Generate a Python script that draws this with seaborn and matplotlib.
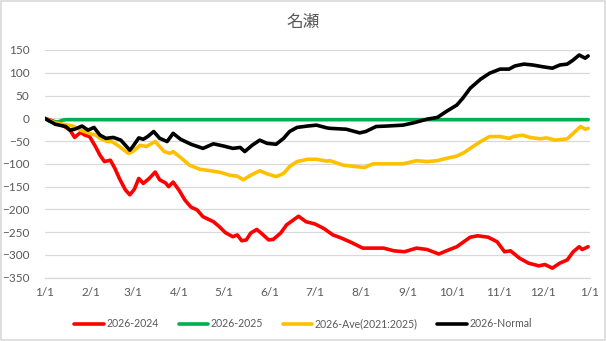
import numpy as np
import pandas as pd
import matplotlib
matplotlib.use("Agg")
import matplotlib.pyplot as plt
import matplotlib.dates as mdates
import seaborn as sns

title = "名瀬"
series_names = ["2026-2024", "2026-2025", "2026-Ave(2021:2025)", "2026-Normal"]
colors = ["#FF0000", "#00B050", "#FFC000", "#000000"]
y_ticks = [150, 100, 50, 0, -50, -100, -150, -200, -250, -300, -350]

# day-of-year offsets (0 = 1/1) and values
red_days = [0, 10, 17, 20, 24, 27, 30, 34, 37, 40, 44, 47, 50, 54, 57, 60, 63, 66, 70, 74,
            77, 81, 83, 86, 90, 94, 98, 102, 106, 113, 117, 121, 126, 129, 132, 135, 138,
            142, 145, 150, 153, 158, 162, 170, 175, 181, 187, 193, 198, 205, 213, 227, 234,
            241, 249, 256, 264, 269, 276, 285, 290, 297, 303, 308, 312, 318, 324, 331, 335,
            340, 345, 350, 354, 358, 360, 364]
red_vals = [0, -11, -26, -42, -31, -37, -40, -62, -81, -95, -92, -110, -132, -157, -168, -156,
            -132, -143, -132, -118, -135, -142, -150, -140, -158, -180, -195, -201, -216, -227,
            -238, -251, -260, -256, -269, -267, -252, -244, -252, -267, -266, -252, -234, -215,
            -227, -232, -242, -256, -262, -272, -285, -285, -291, -293, -285, -288, -298, -291,
            -282, -261, -258, -261, -271, -293, -291, -307, -318, -324, -321, -329, -318, -311,
            -293, -282, -288, -282]

green_days = [0, 3, 6, 9, 12, 14, 364]
green_vals = [0, -6, -8, -8, -4, -3, -3]

ave_days = [0, 7, 14, 19, 24, 30, 34, 37, 42, 45, 50, 56, 59, 64, 68, 74, 80, 84, 86, 91,
            97, 104, 111, 118, 124, 129, 133, 138, 144, 149, 155, 160, 164, 169, 176, 182,
            189, 191, 200, 214, 220, 229, 240, 249, 256, 263, 269, 276, 281, 285, 292, 298,
            305, 311, 314, 320, 325, 332, 336, 342, 350, 354, 359, 362, 364]
ave_vals = [0, -10, -14, -17, -26, -33, -37, -44, -51, -51, -62, -77, -73, -59, -62, -51, -73,
            -77, -73, -86, -103, -112, -115, -119, -125, -127, -135, -125, -115, -122, -128,
            -121, -106, -95, -90, -90, -94, -93, -103, -108, -100, -100, -100, -93, -95, -93,
            -88, -83, -75, -66, -51, -40, -40, -44, -40, -37, -42, -45, -43, -48, -45, -33,
            -18, -24, -22]

normal_days = [0, 7, 14, 17, 20, 25, 29, 33, 37, 41, 46, 51, 57, 59, 63, 66, 69, 73, 77, 82,
               86, 91, 98, 106, 113, 120, 126, 131, 134, 139, 144, 149, 155, 160, 164, 169,
               176, 182, 189, 191, 202, 211, 215, 222, 229, 240, 247, 256, 263, 269, 276,
               280, 285, 292, 298, 305, 311, 315, 321, 327, 334, 340, 345, 350, 354, 358,
               362, 364]
normal_vals = [0, -13, -18, -26, -24, -17, -26, -20, -37, -44, -42, -48, -70, -62, -43, -46,
               -40, -29, -44, -51, -33, -46, -57, -66, -56, -61, -66, -64, -73, -59, -48, -55,
               -57, -44, -29, -20, -17, -15, -21, -22, -24, -32, -29, -18, -17, -15, -10, -2,
               2, 15, 29, 44, 66, 86, 99, 108, 108, 115, 119, 117, 113, 110, 117, 119, 128,
               139, 132, 137]

start = pd.Timestamp("2026-01-01")
frames = []
for name, d, v in [(series_names[0], red_days, red_vals),
                   (series_names[1], green_days, green_vals),
                   (series_names[2], ave_days, ave_vals),
                   (series_names[3], normal_days, normal_vals)]:
    frames.append(pd.DataFrame({"date": start + pd.to_timedelta(d, unit="D"),
                                "value": v, "series": name}))
df = pd.concat(frames, ignore_index=True)

sns.set_theme(style="white")
plt.rcParams["font.family"] = ["Lato", "Noto Sans CJK JP", "DejaVu Sans"]

fig = plt.figure(figsize=(6.06, 3.41), dpi=100)
fig.patch.set_facecolor("white")
ax = fig.add_axes([0.0738, 0.1856, 0.8992, 0.6678])

for name, c in zip(series_names, colors):
    sns.lineplot(data=df[df["series"] == name], x="date", y="value", color=c,
                 linewidth=2.6, ax=ax, label=name, legend=False, solid_joinstyle="round")

ax.set_ylim(-350, 150)
ax.set_yticks(y_ticks)
ax.set_xlim(start, pd.Timestamp("2027-01-01"))
ax.xaxis.set_major_locator(mdates.MonthLocator())
ax.xaxis.set_major_formatter(plt.FuncFormatter(
    lambda x, p: f"{mdates.num2date(x).month}/{mdates.num2date(x).day}"))
ax.yaxis.grid(True, color="#D9D9D9", linewidth=0.9)
ax.xaxis.grid(False)
ax.set_axisbelow(True)
for s in ["top", "right", "left"]:
    ax.spines[s].set_visible(False)
ax.spines["bottom"].set_color("#D9D9D9")
ax.spines["bottom"].set_linewidth(0.9)
ax.tick_params(axis="x", colors="#595959", labelsize=8.5, length=4, width=0.9,
               direction="out", color="#D9D9D9", pad=3)
ax.tick_params(axis="y", colors="#595959", labelsize=8.5, length=0, pad=11)
for lbl in ax.get_yticklabels():
    lbl.set_horizontalalignment("right")
ax.set_xlabel("")
ax.set_ylabel("")

fig.text(0.5, 0.935, title, ha="center", va="center", fontsize=12, color="#595959",
         family=["Noto Sans CJK JP", "DejaVu Sans"])

handles, labels = ax.get_legend_handles_labels()
leg = fig.legend(handles, labels, loc="center", bbox_to_anchor=(0.5, 0.05), ncol=4,
                 frameon=False, fontsize=7.6, handlelength=2.8, handletextpad=0.2,
                 columnspacing=1.9)
for t in leg.get_texts():
    t.set_color("#595959")

fig.patches.append(plt.Rectangle((0.002, 0.003), 0.996, 0.994, transform=fig.transFigure,
                                 fill=False, edgecolor="#D9D9D9", linewidth=1.2))

fig.savefig("out.png", dpi=100)
